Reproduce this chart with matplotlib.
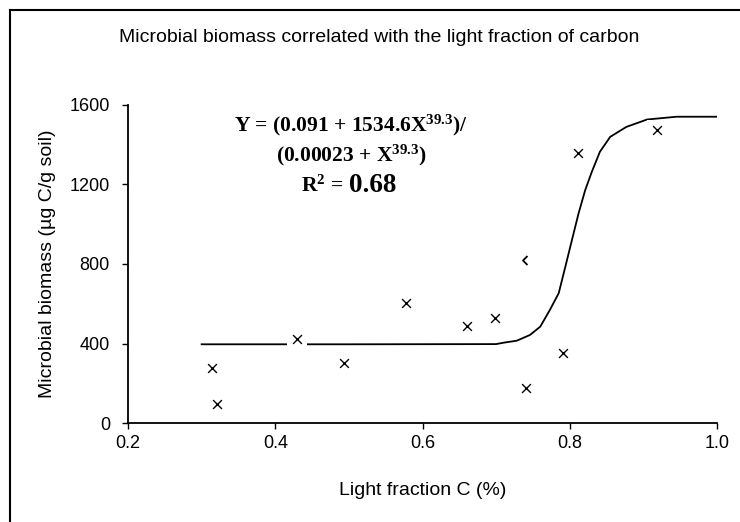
import matplotlib

matplotlib.use("Agg")
import matplotlib.pyplot as plt  # noqa: E402
from matplotlib.lines import Line2D  # noqa: E402

# measured points (light fraction C %, microbial biomass ug C/g soil)
PTS_X = [0.314, 0.321, 0.430, 0.494, 0.578, 0.660, 0.699, 0.741, 0.791, 0.811, 0.919]
PTS_Y = [278, 96, 425, 304, 602, 486, 526, 177, 354, 1357, 1473]
# one marker is only half drawn in the original ("<")
HALF_X = [0.742]
HALF_Y = [820]

# fitted curve
CURVE_X = [0.30, 0.50, 0.70, 0.710, 0.728, 0.746, 0.760, 0.773, 0.785, 0.794,
           0.803, 0.812, 0.821, 0.830, 0.841, 0.855, 0.877, 0.905, 0.945, 1.0]
CURVE_Y = [396, 396, 397, 404, 414, 443, 485, 569, 653, 786,
           921, 1055, 1172, 1264, 1365, 1440, 1490, 1527, 1541, 1541]

X_TICKS = [0.2, 0.4, 0.6, 0.8, 1.0]
X_LABELS = ["0.2", "0.4", "0.6", "0.8", "1.0"]
Y_TICKS = [0, 400, 800, 1200, 1600]

INK = "#000000"
SERIF = dict(family="Liberation Serif", weight="bold")

plt.rcParams.update({
    "font.family": ["Liberation Sans", "DejaVu Sans"],
    "font.size": 13,
    "mathtext.fontset": "custom",
    "mathtext.rm": "Liberation Serif:bold",
    "mathtext.it": "Liberation Serif:bold",
    "mathtext.bf": "Liberation Serif:bold",
})

fig = plt.figure(figsize=(7.4, 5.22), dpi=100)
ax = fig.add_axes([128 / 740, 99 / 522, 589 / 740, 318 / 522])

ax.plot(CURVE_X, CURVE_Y, color=INK, lw=1.3, zorder=2)
# white box behind each marker, Excel-style (breaks the line near 0.43)
ax.scatter(PTS_X, PTS_Y, marker="s", s=196, color="white", linewidths=0, zorder=3)
ax.scatter(PTS_X, PTS_Y, marker="x", s=40, color=INK, linewidths=1.0, zorder=4)
ax.plot(HALF_X, HALF_Y, linestyle="none",
        marker=[(0, 1), (-1, 0), (0, -1)], markersize=6.5,
        markerfacecolor="none", markeredgecolor=INK, markeredgewidth=1.3, zorder=4)

ax.set_xlim(0.2, 1.0)
ax.set_ylim(0, 1600)
ax.set_xticks(X_TICKS)
ax.set_xticklabels(X_LABELS)
ax.set_yticks(Y_TICKS)
ax.tick_params(axis="both", direction="out", length=4, width=1.0, colors=INK,
               labelsize=13)
ax.tick_params(axis="x", pad=5)
ax.tick_params(axis="y", pad=9)
for s in ("top", "right"):
    ax.spines[s].set_visible(False)
for s in ("left", "bottom"):
    ax.spines[s].set_linewidth(1.3)

ax.set_xlabel("Light fraction C (%)", fontsize=14, va="center")
ax.xaxis.set_label_coords(0.5, -0.211)
ax.set_ylabel("Microbial biomass (µg C/g soil)", fontsize=14, va="center")
ax.yaxis.set_label_coords(-0.1375, 0.5)

fig.text(379 / 740, 1 - 38 / 522,
         "Microbial biomass correlated with the light fraction of carbon",
         ha="center", va="center", fontsize=14)

# fitted equation
ax.text(0.379, 0.918, "Y = (0.091 + 1534.6X$^{39.3}$)/",
        transform=ax.transAxes, ha="center", va="baseline", fontsize=15.5, **SERIF)
ax.text(0.379, 0.824, "(0.00023 + X$^{39.3}$)",
        transform=ax.transAxes, ha="center", va="baseline", fontsize=15.5, **SERIF)
ax.text(0.366, 0.726, "R$^{2}$ =",
        transform=ax.transAxes, ha="right", va="baseline", fontsize=15.5, **SERIF)
ax.text(0.376, 0.726, "0.68",
        transform=ax.transAxes, ha="left", va="baseline", fontsize=19.5, **SERIF)

# chart-area frame (left and top edges visible in the crop)
fig.add_artist(Line2D([9.5 / 740, 9.5 / 740], [0, 1 - 9.5 / 522],
                      transform=fig.transFigure, color=INK, lw=1.5))
fig.add_artist(Line2D([9.5 / 740, 1], [1 - 9.5 / 522, 1 - 9.5 / 522],
                      transform=fig.transFigure, color=INK, lw=1.5))

fig.savefig("out.png", dpi=100)
